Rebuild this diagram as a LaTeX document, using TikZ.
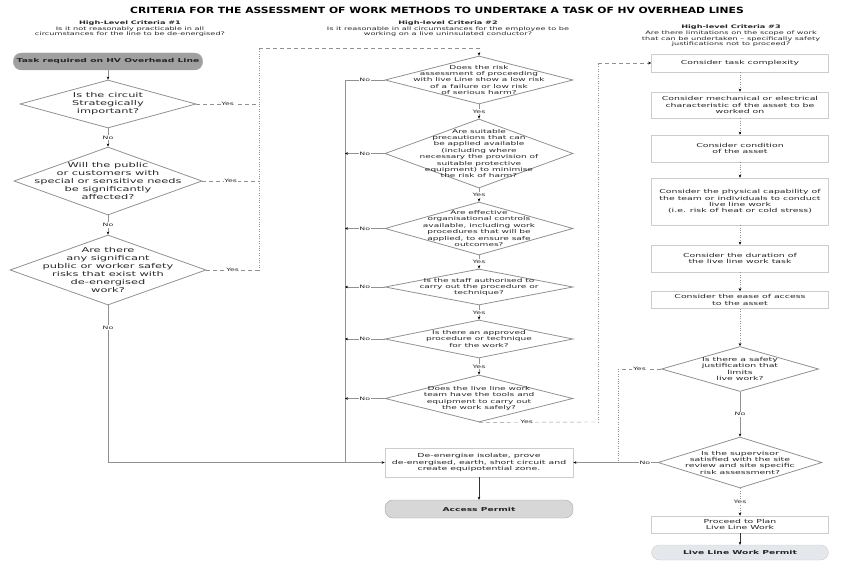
\documentclass[tikz,border=0pt]{standalone}
\usepackage{fontspec}
\setmainfont{DejaVu Sans}[FakeStretch=1.7]
\newfontfamily\titlefont{DejaVu Sans}[FakeStretch=1.25]
\usetikzlibrary{shapes.geometric,arrows.meta}
\definecolor{linegray}{RGB}{145,145,145}
\definecolor{boxgray}{RGB}{205,205,205}
\definecolor{termgray}{RGB}{160,160,160}
\definecolor{permitgray}{RGB}{215,215,215}
\definecolor{permitblue}{RGB}{228,231,236}

\begin{document}
\begin{tikzpicture}[x=1pt,y=-1pt,>={Stealth[length=3pt,width=2.6pt,color=black]},every node/.style={text=black!85},
  cond/.style={draw=linegray,line width=0.8pt,diamond,inner sep=0pt},
  box/.style={draw=boxgray,line width=0.6pt,fill=white,minimum width=177pt,align=center,font=\fontsize{5.5}{6.2}\selectfont},
  term/.style={draw=linegray!80,rounded corners=8pt,align=center,font=\fontsize{5.4}{6}\selectfont\bfseries},
  head/.style={align=center,font=\fontsize{4.8}{5.6}\selectfont},
  t1/.style={align=center,font=\fontsize{6.7}{8}\selectfont},
  t2/.style={align=center,font=\fontsize{5.3}{6.4}\selectfont},
  t3/.style={align=center,font=\fontsize{5.5}{6.3}\selectfont},
  yn/.style={fill=white,inner sep=0.8pt,font=\fontsize{4.6}{5}\selectfont},
  flow/.style={draw=linegray,thick},
  yesline/.style={draw=linegray,dash pattern=on 4pt off 3pt},
  dotline/.style={draw=linegray,dotted}]
\useasboundingbox (0,0) rectangle (848,561);
\node[font={\titlefont\fontsize{8.6}{9}\selectfont\bfseries},text=black] (title) at (437,10) {CRITERIA FOR THE ASSESSMENT OF WORK METHODS TO UNDERTAKE A TASK OF HV OVERHEAD LINES};
\node[head] (h1) at (130,29) {\textbf{High-Level Criteria \#1}\\Is it not reasonably practicable in all\\circumstances for the line to be de-energised?};
\node[head] (h2) at (448,29) {\textbf{High-level Criteria \#2}\\Is it reasonable in all circumstances for the employee to be\\working on a live uninsulated conductor?};
\node[head] (h3) at (731,36) {\textbf{High-level Criteria \#3}\\Are there limitations on the scope of work\\that  can be undertaken – specifically safety\\justifications not to proceed?};

\node[term,fill=termgray,minimum width=163pt,minimum height=17pt] (t) at (108,61.5) {Task required on HV Overhead Line};
\node[cond,minimum width=176pt,minimum height=48pt,label={[t1]center:{Is the circuit\\Strategically\\important?}}] (a1) at (108,104) {};
\node[cond,minimum width=188pt,minimum height=68pt,label={[t1]center:{Will the public\\or customers with\\special or sensitive needs\\be significantly\\affected?}}] (a2) at (108,181) {};
\node[cond,minimum width=196pt,minimum height=70pt,label={[t1]center:{Are there\\any significant\\public or worker safety\\risks that exist with\\de-energised\\work?}}] (a3) at (108,270) {};

\node[cond,minimum width=188pt,minimum height=48pt,label={[t2]center:{Does the risk\\assessment of proceeding\\with live Line show a low risk\\of a failure or low risk\\of serious harm?}}] (b1) at (479,80) {};
\node[cond,minimum width=188pt,minimum height=69pt,label={[t2]center:{Are suitable\\precautions that can\\be applied  available\\(including where\\necessary the provision of\\suitable protective\\equipment) to minimise\\the risk of harm?}}] (b2) at (479,153.5) {};
\node[cond,minimum width=188pt,minimum height=53pt,label={[t2]center:{Are effective\\organisational controls\\available, including work\\procedures that will be\\applied, to ensure safe\\outcomes?}}] (b3) at (479,228.5) {};
\node[cond,minimum width=188pt,minimum height=36pt,label={[t2]center:{Is the staff authorised to\\carry out the procedure or\\technique?}}] (b4) at (479,287) {};
\node[cond,minimum width=188pt,minimum height=38pt,label={[t2]center:{Is there an approved\\procedure or technique\\for the work?}}] (b5) at (479,339) {};
\node[cond,minimum width=188pt,minimum height=47pt,label={[t2]center:{Does the live line work\\team have the tools and\\equipment to carry out\\the work safely?}}] (b6) at (479,398.5) {};
\node[box,minimum width=188pt,minimum height=29pt] (d) at (479,462.5) {De-energise isolate, prove\\de-energised, earth, short circuit and\\create equipotential zone.};
\node[term,fill=permitgray,minimum width=188pt,minimum height=18pt] (p1) at (479,509) {Access Permit};

\node[box,minimum height=18pt] (c1) at (740,63) {Consider task complexity};
\node[box,minimum height=26pt] (c2) at (740,105) {Consider mechanical or electrical\\characteristic of the asset to be\\worked on};
\node[box,minimum height=27pt] (c3) at (740,148.5) {Consider condition\\of the asset};
\node[box,minimum height=47pt] (c4) at (740,201.5) {Consider the physical capability of\\the team or individuals to conduct\\live line work\\(i.e. risk of heat or cold stress)};
\node[box,minimum height=27pt] (c5) at (740,258.5) {Consider the duration of\\the live line work task};
\node[box,minimum height=16pt] (c6) at (740,300) {Consider the ease of access\\to the asset};
\node[cond,minimum width=157pt,minimum height=45pt,label={[t3]center:{Is there a safety\\justification that\\limits\\live work?}}] (e1) at (740,369) {};
\node[cond,minimum width=164pt,minimum height=51pt,label={[t3]center:{Is the supervisor\\satisfied with the site\\review and site specific\\risk assessment?}}] (e2) at (740,462.5) {};
\node[box,minimum height=15pt] (c7) at (740,524.5) {Proceed to Plan\\Live Line Work};
\node[term,fill=permitblue,draw=boxgray,minimum width=177pt,minimum height=15pt] (p2) at (740,552.5) {Live Line Work Permit};

\coordinate (top) at (259,48);
\coordinate (v) at (345,80);
\coordinate (w) at (598,422);
\coordinate (s) at (618,369);

\path[flow,->] (t) -- (a1);
\path[flow,->] (a1) -- node[yn] {No} (a2);
\path[flow,->] (a2) -- node[yn] {No} (a3);
\path[flow,->] (a3.south) |- node[yn,pos=0.07] {No} (d.west);
\path[yesline] (a1.east) -- node[yn] {Yes} (a1.east -| top);
\path[yesline] (a2.east) -- node[yn] {Yes} (a2.east -| top);
\path[yesline] (a3.east) -- node[yn] {Yes} (a3.east -| top);
\path[dotline] (a3.east -| top) -- (top);
\path[yesline,->] (top) -| (b1.north);

\path[flow,->] (b1) -- node[yn] {Yes} (b2);
\path[flow,->] (b2) -- node[yn] {Yes} (b3);
\path[flow,->] (b3) -- node[yn] {Yes} (b4);
\path[flow,->] (b4) -- node[yn] {Yes} (b5);
\path[flow,->] (b5) -- node[yn] {Yes} (b6);
\path[flow] (b1.west) -- node[yn] {No} (v) -- (v |- d.west);
\path[flow,->] (b2.west) -- node[yn] {No} (b2.west -| v);
\path[flow,->] (b3.west) -- node[yn] {No} (b3.west -| v);
\path[flow,->] (b4.west) -- node[yn] {No} (b4.west -| v);
\path[flow,->] (b5.west) -- node[yn] {No} (b5.west -| v);
\path[flow,->] (b6.west) -- node[yn] {No} (b6.west -| v);
\path[yesline] (b6.south) -- node[yn,pos=0.4] {Yes} (w);
\path[dotline] (w) -- (w |- c1.west);
\path[yesline,->] (w |- c1.west) -- (c1.west);
\path[draw=black!80,line width=1pt,->] (d) -- (p1);

\path[dotline,->] (c1) -- (c2);
\path[dotline,->] (c2) -- (c3);
\path[dotline,->] (c3) -- (c4);
\path[dotline,->] (c4) -- (c5);
\path[dotline,->] (c5) -- (c6);
\path[dotline,->] (c6) -- (e1);
\path[flow,->] (e1) -- node[yn] {No} (e2);
\path[dotline,->] (e2) -- node[yn] {Yes} (c7);
\path[draw=black!80,thick,->] (c7) -- (p2);
\path[flow,->] (e2.west) -- node[yn,pos=0.15] {No} (d.east);
\path[yesline] (e1.west) -- node[yn] {Yes} (s);
\path[dotline] (s) -- (s |- d.east);
\end{tikzpicture}
\end{document}
